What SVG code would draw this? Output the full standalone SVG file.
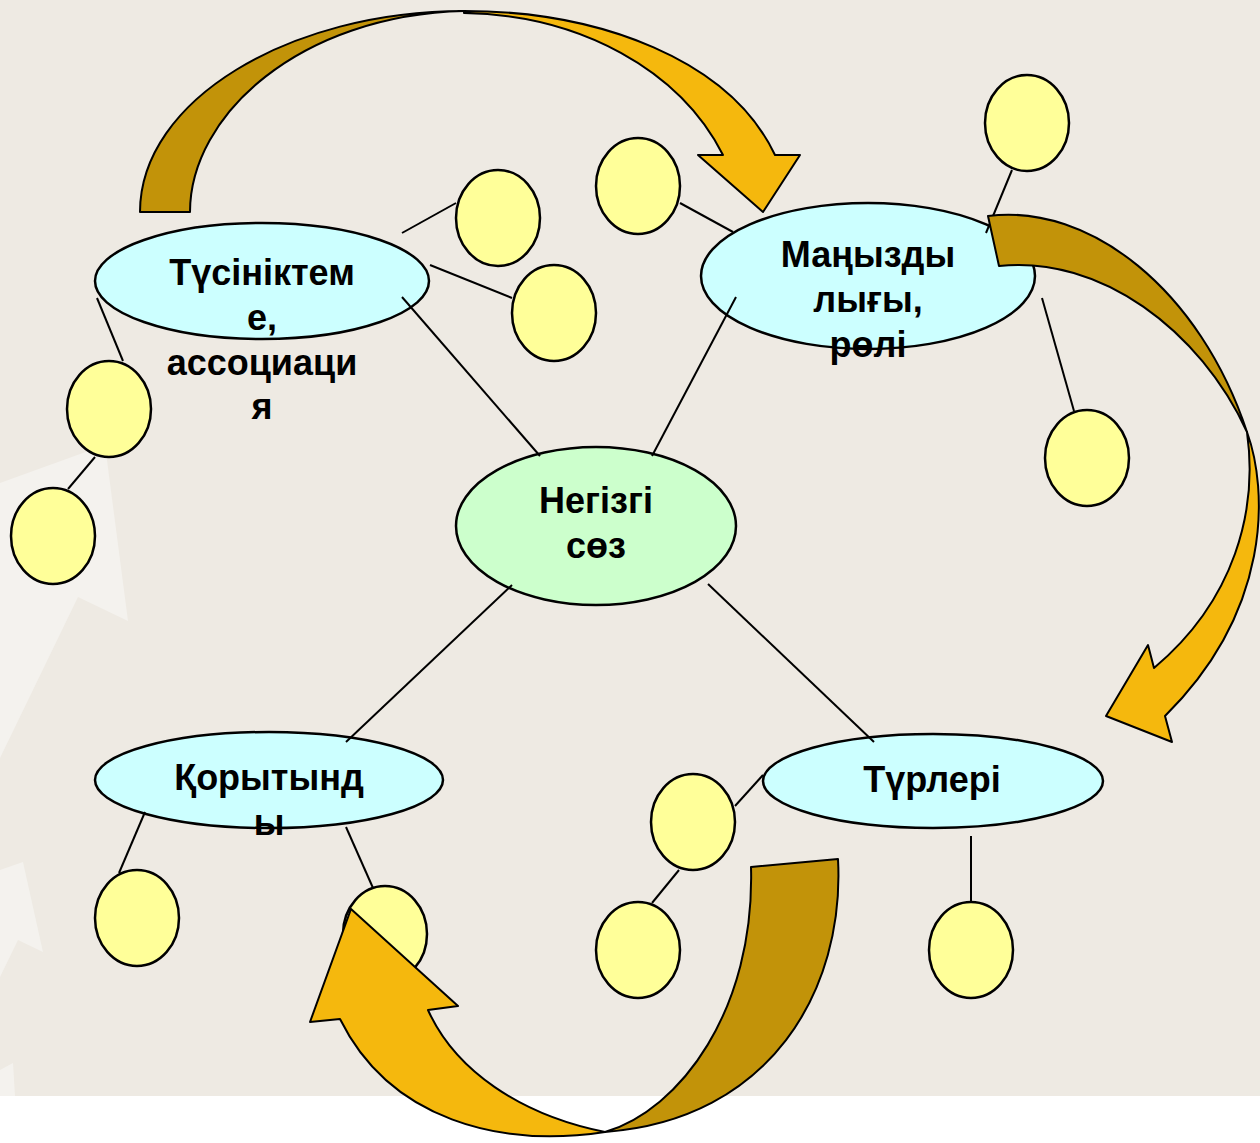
<svg xmlns="http://www.w3.org/2000/svg" width="1260" height="1143" viewBox="0 0 1260 1143">
<defs>
<style>
.bg{fill:#EEEAE3}
.faint{fill:#F4F2EE}
.main{fill:#CCFFFF;stroke:#000;stroke-width:2.5}
.center{fill:#CCFFCC;stroke:#000;stroke-width:2.5}
.leaf{fill:#FFFF99;stroke:#000;stroke-width:2.5}
.conn line{stroke:#000;stroke-width:2}
.lbl{font-family:"Liberation Sans",Arial,sans-serif;font-weight:bold;font-size:36px;fill:#000;text-anchor:middle}
.dark{fill:#C29309;stroke:#000;stroke-width:2;stroke-linejoin:round}
.light{fill:#F5B80D;stroke:#000;stroke-width:2;stroke-linejoin:round}
</style>
</defs>
<rect x="0" y="0" width="1260" height="1143" fill="#FFFFFF"/>
<rect class="bg" x="0" y="0" width="1260" height="1096"/>
<g id="background-shapes">
<polygon class="faint" points="0,483 105,445 128,621 78,597 0,758"/>
<polygon class="faint" points="0,870 23,862 43,952 18,940 0,977"/>
<polygon class="faint" points="0,1070 13,1063 15,1096 0,1096"/>
</g>

<g id="node-tusiniktеme">
<ellipse class="main" cx="262" cy="281" rx="167" ry="58"/>
<text class="lbl" x="262" y="285">Түсініктем</text>
<text class="lbl" x="262" y="330">е,</text>
<text class="lbl" x="262" y="375">ассоциаци</text>
<text class="lbl" x="262" y="419">я</text>
</g>
<g id="node-manyzdylygy">
<ellipse class="main" cx="868" cy="276" rx="167" ry="73"/>
<text class="lbl" x="868" y="267">Маңызды</text>
<text class="lbl" x="868" y="312">лығы,</text>
<text class="lbl" x="868" y="357">рөлі</text>
</g>
<g id="node-negizgi">
<ellipse class="center" cx="596" cy="526" rx="140" ry="79"/>
<text class="lbl" x="596" y="513">Негізгі</text>
<text class="lbl" x="596" y="558">сөз</text>
</g>
<g id="node-korytyndy">
<ellipse class="main" cx="269" cy="780" rx="174" ry="48"/>
<text class="lbl" x="269" y="790">Қорытынд</text>
<text class="lbl" x="269" y="835">ы</text>
</g>
<g id="node-turleri">
<ellipse class="main" cx="933" cy="781" rx="170" ry="47"/>
<text class="lbl" x="932" y="792">Түрлері</text>
</g>

<g id="leaf-1"><ellipse class="leaf" cx="498" cy="218" rx="42" ry="48"/></g>
<g id="leaf-2"><ellipse class="leaf" cx="554" cy="313" rx="42" ry="48"/></g>
<g id="leaf-3"><ellipse class="leaf" cx="638" cy="186" rx="42" ry="48"/></g>
<g id="leaf-4"><ellipse class="leaf" cx="1027" cy="123" rx="42" ry="48"/></g>
<g id="leaf-5"><ellipse class="leaf" cx="1087" cy="458" rx="42" ry="48"/></g>
<g id="leaf-6"><ellipse class="leaf" cx="109" cy="409" rx="42" ry="48"/></g>
<g id="leaf-7"><ellipse class="leaf" cx="53" cy="536" rx="42" ry="48"/></g>
<g id="leaf-8"><ellipse class="leaf" cx="137" cy="918" rx="42" ry="48"/></g>
<g id="leaf-9"><ellipse class="leaf" cx="385" cy="934" rx="42" ry="48"/></g>
<g id="leaf-10"><ellipse class="leaf" cx="693" cy="822" rx="42" ry="48"/></g>
<g id="leaf-11"><ellipse class="leaf" cx="638" cy="950" rx="42" ry="48"/></g>
<g id="leaf-12"><ellipse class="leaf" cx="971" cy="950" rx="42" ry="48"/></g>

<g id="connectors" class="conn">
<line x1="402" y1="233" x2="456" y2="203"/>
<line x1="430" y1="265" x2="512" y2="298"/>
<line x1="680" y1="203" x2="733" y2="232"/>
<line x1="1012" y1="170" x2="986" y2="233"/>
<line x1="1042" y1="298" x2="1074" y2="411"/>
<line x1="97" y1="298" x2="123" y2="361"/>
<line x1="95" y1="457" x2="68" y2="489"/>
<line x1="402" y1="297" x2="540" y2="456"/>
<line x1="736" y1="297" x2="652" y2="456"/>
<line x1="512" y1="585" x2="346" y2="742"/>
<line x1="708" y1="584" x2="874" y2="742"/>
<line x1="145" y1="812" x2="119" y2="873"/>
<line x1="346" y1="827" x2="373" y2="888"/>
<line x1="763" y1="775" x2="735" y2="806"/>
<line x1="679" y1="870" x2="652" y2="903"/>
<line x1="971" y1="836" x2="971" y2="902"/>
</g>

<g id="arrow-top">
<path class="dark" d="M140,212 C140,100 290,11 464,11 C300,15 190,115 190,212 Z"/>
<path class="light" d="M464,11 C600,11 730,60 775,155 L800,155 L763,212 L698,155 L723,155 C680,70 580,15 464,13 Z"/>
</g>
<g id="arrow-right">
<path class="dark" d="M988,216 C1090,203 1200,290 1247,432 C1200,330 1100,255 999,266 Z"/>
<path class="light" d="M1247,432 C1268,490 1272,610 1165,716 L1172,742 L1106,716 L1148,645 L1154,668 C1235,600 1258,510 1247,432 Z"/>
</g>
<g id="arrow-bottom">
<path class="dark" d="M751,867 L838,859 C845,990 770,1120 605,1132 C680,1110 755,1010 751,867 Z"/>
<path class="light" d="M605,1132 C500,1148 390,1120 340,1019 L310,1022 L351,909 L458,1006 L428,1010 C455,1070 520,1115 605,1132 Z"/>
</g>
</svg>
